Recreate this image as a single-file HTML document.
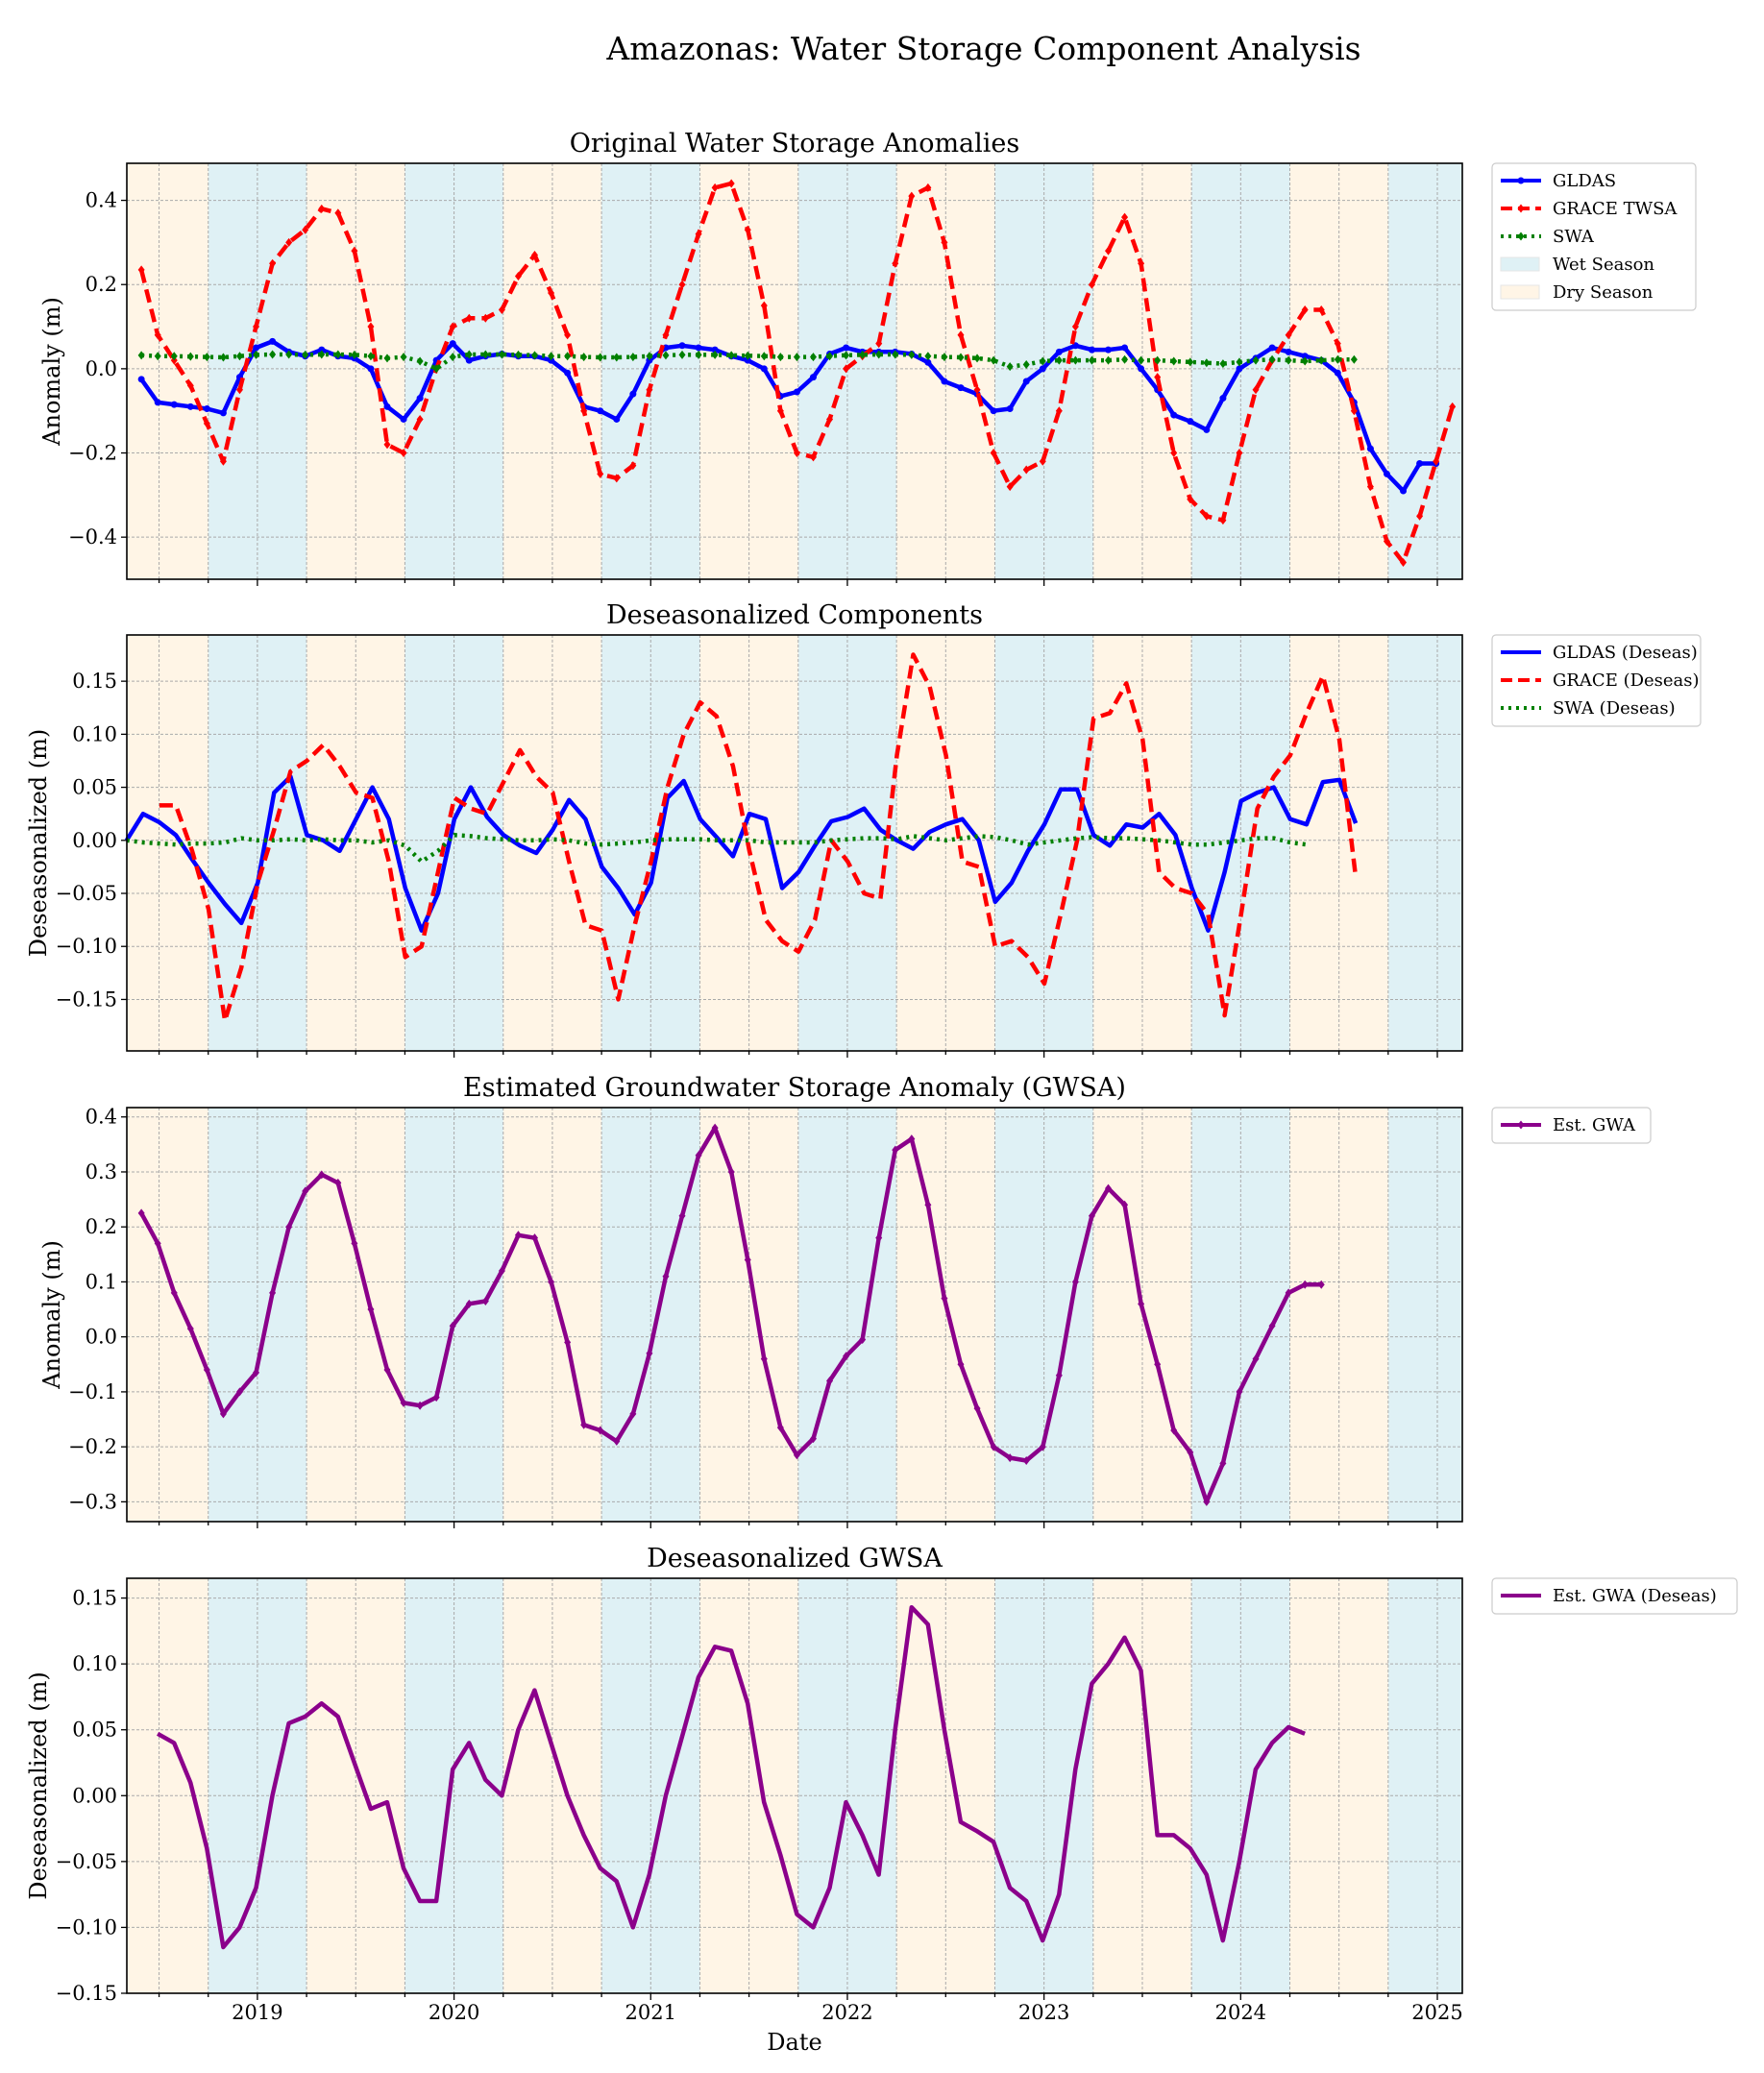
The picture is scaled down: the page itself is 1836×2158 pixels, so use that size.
<!DOCTYPE html>
<html><head><meta charset="utf-8">
<style>
html,body{margin:0;padding:0;background:#fff;}
svg{display:block;font-family:"DejaVu Serif","Liberation Serif",serif;}
</style></head>
<body>
<svg id="chart" width="1836" height="2158" viewBox="0 0 1836 2158" xmlns="http://www.w3.org/2000/svg">
<text x="1024" y="62" font-size="33" text-anchor="middle">Amazonas: Water Storage Component Analysis</text>
</svg>
<script>
// ---- data ----
const yearTicks = [2019, 2020, 2021, 2022, 2023, 2024, 2025];
const p1Start = 2018.41;
const gldas = [-0.025,-0.08,-0.085,-0.09,-0.095,-0.105,-0.02,0.05,0.065,0.04,0.03,0.045,0.03,0.025,0.0,-0.09,-0.12,-0.07,0.02,0.06,0.02,0.03,0.035,0.03,0.03,0.02,-0.01,-0.09,-0.1,-0.12,-0.06,0.02,0.05,0.055,0.05,0.045,0.03,0.02,0.0,-0.065,-0.055,-0.02,0.035,0.05,0.04,0.04,0.04,0.035,0.015,-0.03,-0.045,-0.06,-0.1,-0.095,-0.03,0.0,0.04,0.055,0.045,0.045,0.05,0.0,-0.05,-0.11,-0.125,-0.145,-0.07,0.0,0.025,0.05,0.04,0.03,0.02,-0.01,-0.08,-0.19,-0.25,-0.29,-0.225,-0.225];
const grace = [0.235,0.08,0.02,-0.04,-0.13,-0.22,-0.05,0.1,0.25,0.3,0.33,0.38,0.37,0.28,0.1,-0.18,-0.2,-0.12,0.0,0.1,0.12,0.12,0.14,0.22,0.27,0.18,0.08,-0.1,-0.25,-0.26,-0.23,-0.05,0.08,0.2,0.32,0.43,0.44,0.33,0.15,-0.1,-0.2,-0.21,-0.12,0.0,0.03,0.06,0.25,0.41,0.43,0.3,0.08,-0.05,-0.2,-0.28,-0.24,-0.22,-0.1,0.1,0.2,0.28,0.36,0.25,-0.02,-0.2,-0.31,-0.35,-0.36,-0.2,-0.05,0.02,0.08,0.14,0.14,0.06,-0.1,-0.28,-0.41,-0.46,-0.35,-0.22,-0.09];
const swa = [0.032,0.03,0.03,0.029,0.028,0.027,0.03,0.033,0.034,0.034,0.033,0.034,0.034,0.033,0.03,0.025,0.028,0.018,0.0,0.028,0.034,0.034,0.034,0.033,0.032,0.03,0.03,0.028,0.027,0.027,0.028,0.03,0.032,0.033,0.033,0.033,0.032,0.031,0.03,0.028,0.028,0.028,0.03,0.032,0.033,0.034,0.034,0.033,0.03,0.028,0.027,0.025,0.02,0.005,0.01,0.018,0.02,0.02,0.02,0.02,0.022,0.02,0.02,0.018,0.016,0.014,0.012,0.016,0.02,0.022,0.02,0.018,0.02,0.022,0.022];
const p2Start = 2018.335;
const gldasD = [0.0,0.025,0.017,0.005,-0.018,-0.04,-0.06,-0.078,-0.04,0.045,0.06,0.005,0.0,-0.01,0.02,0.05,0.02,-0.045,-0.085,-0.05,0.02,0.05,0.022,0.005,-0.005,-0.012,0.01,0.038,0.02,-0.025,-0.045,-0.07,-0.04,0.04,0.056,0.02,0.003,-0.015,0.025,0.02,-0.045,-0.03,-0.005,0.018,0.022,0.03,0.01,0.0,-0.008,0.008,0.015,0.02,0.0,-0.058,-0.04,-0.01,0.015,0.048,0.048,0.005,-0.005,0.015,0.012,0.025,0.005,-0.045,-0.085,-0.03,0.037,0.045,0.05,0.02,0.015,0.055,0.057,0.016];
const graceD = [null,null,0.033,0.033,-0.01,-0.065,-0.17,-0.12,-0.04,0.01,0.065,0.075,0.09,0.07,0.045,0.04,-0.02,-0.11,-0.1,-0.03,0.04,0.03,0.025,0.055,0.085,0.06,0.045,-0.02,-0.08,-0.085,-0.15,-0.08,-0.02,0.05,0.1,0.13,0.117,0.07,-0.01,-0.075,-0.095,-0.105,-0.075,0.0,-0.02,-0.05,-0.055,0.08,0.175,0.145,0.08,-0.02,-0.025,-0.1,-0.095,-0.11,-0.135,-0.07,0.0,0.115,0.12,0.148,0.095,-0.03,-0.045,-0.05,-0.07,-0.165,-0.07,0.03,0.06,0.08,0.12,0.155,0.095,-0.035];
const swaD = [0.0,-0.002,-0.003,-0.004,-0.003,-0.003,-0.002,0.002,0.0,0.0,0.001,0.0,0.001,0.0,0.0,-0.002,0.0,-0.005,-0.02,-0.01,0.005,0.004,0.002,0.001,0.0,0.0,0.001,0.0,-0.003,-0.004,-0.003,-0.002,0.0,0.001,0.001,0.001,0.0,0.0,0.0,-0.002,-0.002,-0.002,-0.002,0.0,0.001,0.002,0.002,0.001,0.004,0.002,0.0,0.002,0.004,0.003,0.0,-0.004,-0.002,0.0,0.002,0.003,0.002,0.002,0.001,0.0,-0.002,-0.004,-0.004,-0.002,0.0,0.002,0.002,-0.002,-0.004];
const gwa = [0.225,0.17,0.08,0.015,-0.06,-0.14,-0.1,-0.065,0.08,0.2,0.265,0.295,0.28,0.17,0.05,-0.06,-0.12,-0.125,-0.11,0.02,0.06,0.065,0.12,0.185,0.18,0.1,-0.01,-0.16,-0.17,-0.19,-0.14,-0.03,0.11,0.22,0.33,0.38,0.3,0.14,-0.04,-0.165,-0.215,-0.185,-0.08,-0.035,-0.005,0.18,0.34,0.36,0.24,0.07,-0.05,-0.13,-0.2,-0.22,-0.225,-0.2,-0.07,0.1,0.22,0.27,0.24,0.06,-0.05,-0.17,-0.21,-0.3,-0.23,-0.1,-0.04,0.02,0.08,0.095,0.095];
const p4Start = 2018.493;
const gwaD = [0.047,0.04,0.01,-0.04,-0.115,-0.1,-0.07,0.0,0.055,0.06,0.07,0.06,0.025,-0.01,-0.005,-0.055,-0.08,-0.08,0.02,0.04,0.012,0.0,0.05,0.08,0.04,0.0,-0.03,-0.055,-0.065,-0.1,-0.06,0.0,0.045,0.09,0.113,0.11,0.07,-0.005,-0.045,-0.09,-0.1,-0.07,-0.005,-0.03,-0.06,0.05,0.143,0.13,0.05,-0.02,-0.027,-0.035,-0.07,-0.08,-0.11,-0.075,0.02,0.085,0.1,0.12,0.095,-0.03,-0.03,-0.04,-0.06,-0.11,-0.05,0.02,0.04,0.052,0.047];
const wetStarts = [2018.75, 2019.75, 2020.75, 2021.75, 2022.75, 2023.75, 2024.75];
const p1Ticks = [-0.4,-0.2,0.0,0.2,0.4];
const p2Ticks = [-0.15,-0.10,-0.05,0.0,0.05,0.10,0.15];
const p3Ticks = [-0.3,-0.2,-0.1,0.0,0.1,0.2,0.3,0.4];

// ---- layout ----
const NS = "http://www.w3.org/2000/svg";
const svg = document.getElementById('chart');
const L = 132, R = 1522, X0 = 2018.336, X1 = 2025.127;
const xs = t => L + (t - X0) / (X1 - X0) * (R - L);
function el(tag, attrs, parent) {
  const e = document.createElementNS(NS, tag);
  for (const k in attrs) e.setAttribute(k, attrs[k]);
  (parent || svg).appendChild(e);
  return e;
}
function fmt(v, d) { const s = Math.abs(v).toFixed(d); return (v < -1e-9 ? '\u2212' : '') + s; }

function panel(cfg) {
  const g = el('g', {});
  
  
  const ys = v => cfg.bot - (v - cfg.ymin) / (cfg.ymax - cfg.ymin) * (cfg.bot - cfg.top);
  const bg = el('rect', {x: L, y: cfg.top, width: R - L, height: cfg.bot - cfg.top, fill: '#fff5e6'}, g);
  
  
  wetStarts.forEach(ws => {
    const a = Math.max(X0, ws), b = Math.min(X1, ws + 0.5);
    const r = el('rect', {x: xs(a), y: cfg.top, width: xs(b) - xs(a), height: cfg.bot - cfg.top, fill: '#dff1f5'}, g);
    
    
  });
  for (let q = 2018.5; q <= X1; q += 0.25) {
    el('line', {x1: xs(q), x2: xs(q), y1: cfg.top, y2: cfg.bot, stroke: '#aaa', 'stroke-width': 1, 'stroke-dasharray': '3,2'}, g);
    el('line', {x1: xs(q), x2: xs(q), y1: cfg.bot, y2: cfg.bot + (yearTicks.includes(Math.round(q*100)/100) ? 7 : 4), stroke: '#000', 'stroke-width': 1.3}, g);
  }
  cfg.ticks.forEach(v => {
    const y = ys(v);
    el('line', {x1: L, x2: R, y1: y, y2: y, stroke: '#aaa', 'stroke-width': 1, 'stroke-dasharray': '3,2'}, g);
    el('line', {x1: L - 6, x2: L, y1: y, y2: y, stroke: '#000', 'stroke-width': 1.3}, g);
    const t = el('text', {x: L - 10, y: y + 7, 'font-size': 21, 'text-anchor': 'end'}, g);
    t.textContent = fmt(v, cfg.dec);
    
    
  });
  cfg.series.forEach(s => {
    let d = '';
    let pts = [];
    s.vals.forEach((v, i) => {
      if (v === null) return;
      const x = xs(s.start + i / 12), y = ys(v);
      d += (d ? 'L' : 'M') + x.toFixed(1) + ',' + y.toFixed(1);
      pts.push([x, y]);
    });
    const p = el('path', {d: d, fill: 'none', stroke: s.color, 'stroke-width': s.w, 'stroke-dasharray': s.dash || 'none', 'stroke-linejoin': 'round'}, g);
    
    
    if (s.marker) pts.forEach(([x, y]) => {
      if (s.marker === 'o') el('circle', {cx: x, cy: y, r: 3.5, fill: s.color}, g);
      else el('path', {d: `M${x},${y-4.5}L${x+3.5},${y}L${x},${y+4.5}L${x-3.5},${y}Z`, fill: s.color}, g);
    });
  });
  el('rect', {x: L, y: cfg.top, width: R - L, height: cfg.bot - cfg.top, fill: 'none', stroke: '#000', 'stroke-width': 1.6}, g);
  const tt = el('text', {x: (L + R) / 2, y: cfg.top - 12, 'font-size': 27, 'text-anchor': 'middle'}, g);
  tt.textContent = cfg.title;
  
  
  const yl = el('text', {x: 0, y: 0, 'font-size': 24, 'text-anchor': 'middle', transform: `translate(${cfg.ylx},${(cfg.top + cfg.bot) / 2}) rotate(-90)`}, g);
  yl.textContent = cfg.ylabel;
  
  
  const lg = el('g', {}, g);
  
  
  el('rect', {x: 1553, y: cfg.top, width: cfg.legW, height: cfg.legend.length * 29 + 8, rx: 4, fill: '#fff', stroke: '#ccc', 'stroke-width': 1.2}, lg);
  cfg.legend.forEach((e, i) => {
    const y = cfg.top + 18 + i * 29;
    if (e.patch) el('rect', {x: 1562, y: y - 7, width: 40, height: 14, fill: e.patch, stroke: '#e6e6e6'}, lg);
    else {
      el('line', {x1: 1562, x2: 1604, y1: y, y2: y, stroke: e.color, 'stroke-width': e.w, 'stroke-dasharray': e.dash || 'none'}, lg);
      if (e.marker === 'o') el('circle', {cx: 1583, cy: y, r: 3.5, fill: e.color}, lg);
      if (e.marker === 'd') el('path', {d: `M1583,${y-4.5}L1586.5,${y}L1583,${y+4.5}L1579.5,${y}Z`, fill: e.color}, lg);
    }
    const t = el('text', {x: 1616, y: y + 6, 'font-size': 18}, lg);
    t.textContent = e.label;
    
    
  });
  return g;
}

panel({name: 'original-anomalies-panel', title: 'Original Water Storage Anomalies', ylabel: 'Anomaly (m)', ylx: 62,
  top: 170, bot: 603, ymin: -0.5, ymax: 0.488, ticks: p1Ticks, dec: 1, legW: 212,
  series: [
    {id: 'gldas-line', vals: gldas, start: p1Start, color: '#0000ff', w: 4.5, marker: 'o'},
    {id: 'grace-twsa-line', vals: grace, start: p1Start, color: '#ff0000', w: 4.5, dash: '14,7', marker: 'd'},
    {id: 'swa-line', vals: swa, start: p1Start, color: '#008000', w: 4.5, dash: '3,5', marker: 'd'}],
  legend: [
    {label: 'GLDAS', color: '#0000ff', w: 4, marker: 'o'},
    {label: 'GRACE TWSA', color: '#ff0000', w: 4, dash: '12,6', marker: 'd'},
    {label: 'SWA', color: '#008000', w: 4, dash: '3,5', marker: 'd'},
    {label: 'Wet Season', patch: '#dff1f5'},
    {label: 'Dry Season', patch: '#fff5e6'}]});

panel({name: 'deseasonalized-components-panel', title: 'Deseasonalized Components', ylabel: 'Deseasonalized (m)', ylx: 48,
  top: 661, bot: 1094, ymin: -0.1985, ymax: 0.1936, ticks: p2Ticks, dec: 2, legW: 217,
  series: [
    {id: 'gldas-deseas-line', vals: gldasD, start: p2Start, color: '#0000ff', w: 4.5},
    {id: 'grace-deseas-line', vals: graceD, start: p2Start, color: '#ff0000', w: 4.5, dash: '14,7'},
    {id: 'swa-deseas-line', vals: swaD, start: p2Start, color: '#008000', w: 4.5, dash: '3,5'}],
  legend: [
    {label: 'GLDAS (Deseas)', color: '#0000ff', w: 4},
    {label: 'GRACE (Deseas)', color: '#ff0000', w: 4, dash: '12,6'},
    {label: 'SWA (Deseas)', color: '#008000', w: 4, dash: '3,5'}]});

panel({name: 'gwsa-panel', title: 'Estimated Groundwater Storage Anomaly (GWSA)', ylabel: 'Anomaly (m)', ylx: 62,
  top: 1153, bot: 1584, ymin: -0.336, ymax: 0.417, ticks: p3Ticks, dec: 1, legW: 165,
  series: [{id: 'gwa-line', vals: gwa, start: p1Start, color: '#8b008b', w: 4.5, marker: 'd'}],
  legend: [{label: 'Est. GWA', color: '#8b008b', w: 4, marker: 'd'}]});

panel({name: 'gwsa-deseas-panel', title: 'Deseasonalized GWSA', ylabel: 'Deseasonalized (m)', ylx: 48,
  top: 1643, bot: 2075, ymin: -0.15, ymax: 0.165, ticks: p2Ticks, dec: 2, legW: 255,
  series: [{id: 'gwa-deseas-line', vals: gwaD, start: p4Start, color: '#8b008b', w: 4.5}],
  legend: [{label: 'Est. GWA (Deseas)', color: '#8b008b', w: 4}]});

yearTicks.forEach(yr => {
  const t = el('text', {x: xs(yr), y: 2102, 'font-size': 21, 'text-anchor': 'middle'});
  t.textContent = yr;
  
  
});
const xl = el('text', {x: (L + R) / 2, y: 2134, 'font-size': 24, 'text-anchor': 'middle'});
xl.textContent = 'Date';


</script>
</body></html>
